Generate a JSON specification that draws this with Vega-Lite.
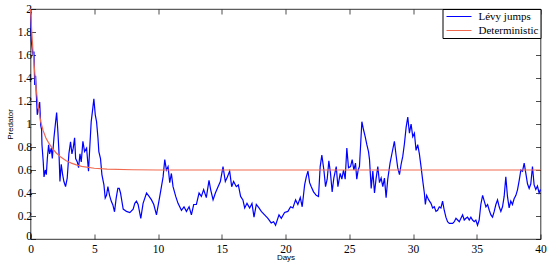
{
  "$schema": "https://vega.github.io/schema/vega-lite/v6.json",
  "width": 510,
  "height": 230,
  "autosize": "none",
  "padding": {"left": 30.5, "top": 9, "right": 9.5, "bottom": 27},
  "background": "white",
  "config": {
    "view": {"stroke": "black", "strokeWidth": 0.8},
    "axis": {
      "domain": false,
      "grid": false,
      "ticks": true,
      "tickSize": -5,
      "tickColor": "black",
      "tickWidth": 0.7,
      "labelFont": "Liberation Serif, Times New Roman, DejaVu Serif, serif",
      "labelFontSize": 11.5,
      "labelColor": "black",
      "labelPadding": 4,
      "titleFont": "Liberation Sans, Arial, sans-serif",
      "titleFontSize": 8,
      "titleFontWeight": "normal",
      "titleColor": "black"
    },
    "legend": {
      "orient": "top-right",
      "offset": 0,
      "strokeColor": "black",
      "fillColor": "white",
      "padding": 2,
      "symbolType": "M-2.5,0H2.5",
      "symbolSize": 100,
      "symbolOffset": 9,
      "symbolStrokeWidth": 1,
      "labelOffset": 14,
      "labelFont": "Liberation Serif, Times New Roman, DejaVu Serif, serif",
      "labelFontSize": 11,
      "labelColor": "black",
      "rowPadding": 2,
      "title": null
    }
  },
  "datasets": {
    "lines": [
      {"day":0,"predator":1.98,"series":"Lévy jumps"},
      {"day":0.065,"predator":1.72,"series":"Lévy jumps"},
      {"day":0.195,"predator":1.6,"series":"Lévy jumps"},
      {"day":0.27,"predator":1.63,"series":"Lévy jumps"},
      {"day":0.33,"predator":1.34,"series":"Lévy jumps"},
      {"day":0.4,"predator":1.42,"series":"Lévy jumps"},
      {"day":0.46,"predator":1.25,"series":"Lévy jumps"},
      {"day":0.53,"predator":1.08,"series":"Lévy jumps"},
      {"day":0.6,"predator":1.12,"series":"Lévy jumps"},
      {"day":0.72,"predator":1.19,"series":"Lévy jumps"},
      {"day":0.8,"predator":0.99,"series":"Lévy jumps"},
      {"day":0.87,"predator":0.95,"series":"Lévy jumps"},
      {"day":0.9,"predator":0.82,"series":"Lévy jumps"},
      {"day":1.0,"predator":0.67,"series":"Lévy jumps"},
      {"day":1.06,"predator":0.54,"series":"Lévy jumps"},
      {"day":1.16,"predator":0.6,"series":"Lévy jumps"},
      {"day":1.24,"predator":0.56,"series":"Lévy jumps"},
      {"day":1.32,"predator":0.7,"series":"Lévy jumps"},
      {"day":1.42,"predator":0.82,"series":"Lévy jumps"},
      {"day":1.5,"predator":0.74,"series":"Lévy jumps"},
      {"day":1.63,"predator":0.79,"series":"Lévy jumps"},
      {"day":1.71,"predator":0.7,"series":"Lévy jumps"},
      {"day":1.84,"predator":0.88,"series":"Lévy jumps"},
      {"day":1.97,"predator":1.02,"series":"Lévy jumps"},
      {"day":2.05,"predator":1.1,"series":"Lévy jumps"},
      {"day":2.15,"predator":0.93,"series":"Lévy jumps"},
      {"day":2.23,"predator":0.76,"series":"Lévy jumps"},
      {"day":2.31,"predator":0.5,"series":"Lévy jumps"},
      {"day":2.41,"predator":0.65,"series":"Lévy jumps"},
      {"day":2.52,"predator":0.56,"series":"Lévy jumps"},
      {"day":2.62,"predator":0.5,"series":"Lévy jumps"},
      {"day":2.75,"predator":0.455,"series":"Lévy jumps"},
      {"day":2.88,"predator":0.53,"series":"Lévy jumps"},
      {"day":3.01,"predator":0.74,"series":"Lévy jumps"},
      {"day":3.14,"predator":0.846,"series":"Lévy jumps"},
      {"day":3.25,"predator":0.74,"series":"Lévy jumps"},
      {"day":3.35,"predator":0.79,"series":"Lévy jumps"},
      {"day":3.46,"predator":0.88,"series":"Lévy jumps"},
      {"day":3.54,"predator":0.7,"series":"Lévy jumps"},
      {"day":3.67,"predator":0.67,"series":"Lévy jumps"},
      {"day":3.77,"predator":0.62,"series":"Lévy jumps"},
      {"day":3.88,"predator":0.74,"series":"Lévy jumps"},
      {"day":3.98,"predator":0.67,"series":"Lévy jumps"},
      {"day":4.11,"predator":0.85,"series":"Lévy jumps"},
      {"day":4.24,"predator":0.76,"series":"Lévy jumps"},
      {"day":4.4,"predator":0.79,"series":"Lévy jumps"},
      {"day":4.55,"predator":0.59,"series":"Lévy jumps"},
      {"day":4.66,"predator":0.82,"series":"Lévy jumps"},
      {"day":4.76,"predator":1.02,"series":"Lévy jumps"},
      {"day":4.89,"predator":1.14,"series":"Lévy jumps"},
      {"day":4.97,"predator":1.22,"series":"Lévy jumps"},
      {"day":5.08,"predator":1.08,"series":"Lévy jumps"},
      {"day":5.18,"predator":1.02,"series":"Lévy jumps"},
      {"day":5.29,"predator":0.88,"series":"Lévy jumps"},
      {"day":5.36,"predator":0.76,"series":"Lévy jumps"},
      {"day":5.49,"predator":0.7,"series":"Lévy jumps"},
      {"day":5.6,"predator":0.56,"series":"Lévy jumps"},
      {"day":5.76,"predator":0.47,"series":"Lévy jumps"},
      {"day":5.86,"predator":0.356,"series":"Lévy jumps"},
      {"day":5.96,"predator":0.38,"series":"Lévy jumps"},
      {"day":6.07,"predator":0.455,"series":"Lévy jumps"},
      {"day":6.2,"predator":0.38,"series":"Lévy jumps"},
      {"day":6.33,"predator":0.33,"series":"Lévy jumps"},
      {"day":6.46,"predator":0.296,"series":"Lévy jumps"},
      {"day":6.59,"predator":0.237,"series":"Lévy jumps"},
      {"day":6.72,"predator":0.356,"series":"Lévy jumps"},
      {"day":6.85,"predator":0.44,"series":"Lévy jumps"},
      {"day":6.96,"predator":0.44,"series":"Lévy jumps"},
      {"day":7.06,"predator":0.4,"series":"Lévy jumps"},
      {"day":7.27,"predator":0.26,"series":"Lévy jumps"},
      {"day":7.53,"predator":0.24,"series":"Lévy jumps"},
      {"day":7.79,"predator":0.23,"series":"Lévy jumps"},
      {"day":8.05,"predator":0.26,"series":"Lévy jumps"},
      {"day":8.18,"predator":0.31,"series":"Lévy jumps"},
      {"day":8.31,"predator":0.33,"series":"Lévy jumps"},
      {"day":8.44,"predator":0.3,"series":"Lévy jumps"},
      {"day":8.65,"predator":0.18,"series":"Lévy jumps"},
      {"day":8.83,"predator":0.31,"series":"Lévy jumps"},
      {"day":9.1,"predator":0.4,"series":"Lévy jumps"},
      {"day":9.3,"predator":0.37,"series":"Lévy jumps"},
      {"day":9.49,"predator":0.34,"series":"Lévy jumps"},
      {"day":9.67,"predator":0.3,"series":"Lévy jumps"},
      {"day":9.88,"predator":0.21,"series":"Lévy jumps"},
      {"day":10.09,"predator":0.34,"series":"Lévy jumps"},
      {"day":10.27,"predator":0.455,"series":"Lévy jumps"},
      {"day":10.4,"predator":0.54,"series":"Lévy jumps"},
      {"day":10.53,"predator":0.69,"series":"Lévy jumps"},
      {"day":10.66,"predator":0.6,"series":"Lévy jumps"},
      {"day":10.79,"predator":0.63,"series":"Lévy jumps"},
      {"day":10.92,"predator":0.49,"series":"Lévy jumps"},
      {"day":11.05,"predator":0.57,"series":"Lévy jumps"},
      {"day":11.18,"predator":0.455,"series":"Lévy jumps"},
      {"day":11.39,"predator":0.37,"series":"Lévy jumps"},
      {"day":11.57,"predator":0.31,"series":"Lévy jumps"},
      {"day":11.84,"predator":0.25,"series":"Lévy jumps"},
      {"day":12.04,"predator":0.28,"series":"Lévy jumps"},
      {"day":12.23,"predator":0.24,"series":"Lévy jumps"},
      {"day":12.44,"predator":0.28,"series":"Lévy jumps"},
      {"day":12.62,"predator":0.21,"series":"Lévy jumps"},
      {"day":12.8,"predator":0.3,"series":"Lévy jumps"},
      {"day":13.01,"predator":0.3,"series":"Lévy jumps"},
      {"day":13.22,"predator":0.4,"series":"Lévy jumps"},
      {"day":13.4,"predator":0.37,"series":"Lévy jumps"},
      {"day":13.58,"predator":0.43,"series":"Lévy jumps"},
      {"day":13.79,"predator":0.36,"series":"Lévy jumps"},
      {"day":14.0,"predator":0.51,"series":"Lévy jumps"},
      {"day":14.13,"predator":0.43,"series":"Lévy jumps"},
      {"day":14.32,"predator":0.34,"series":"Lévy jumps"},
      {"day":14.5,"predator":0.4,"series":"Lévy jumps"},
      {"day":14.71,"predator":0.455,"series":"Lévy jumps"},
      {"day":14.89,"predator":0.5,"series":"Lévy jumps"},
      {"day":15.1,"predator":0.63,"series":"Lévy jumps"},
      {"day":15.28,"predator":0.5,"series":"Lévy jumps"},
      {"day":15.44,"predator":0.54,"series":"Lévy jumps"},
      {"day":15.62,"predator":0.59,"series":"Lévy jumps"},
      {"day":15.78,"predator":0.455,"series":"Lévy jumps"},
      {"day":15.93,"predator":0.5,"series":"Lévy jumps"},
      {"day":16.14,"predator":0.455,"series":"Lévy jumps"},
      {"day":16.3,"predator":0.47,"series":"Lévy jumps"},
      {"day":16.48,"predator":0.37,"series":"Lévy jumps"},
      {"day":16.66,"predator":0.34,"series":"Lévy jumps"},
      {"day":16.8,"predator":0.27,"series":"Lévy jumps"},
      {"day":16.98,"predator":0.31,"series":"Lévy jumps"},
      {"day":17.19,"predator":0.27,"series":"Lévy jumps"},
      {"day":17.37,"predator":0.31,"series":"Lévy jumps"},
      {"day":17.53,"predator":0.19,"series":"Lévy jumps"},
      {"day":17.71,"predator":0.3,"series":"Lévy jumps"},
      {"day":17.92,"predator":0.27,"series":"Lévy jumps"},
      {"day":18.1,"predator":0.24,"series":"Lévy jumps"},
      {"day":18.36,"predator":0.21,"series":"Lévy jumps"},
      {"day":18.62,"predator":0.18,"series":"Lévy jumps"},
      {"day":18.88,"predator":0.14,"series":"Lévy jumps"},
      {"day":19.07,"predator":0.15,"series":"Lévy jumps"},
      {"day":19.22,"predator":0.12,"series":"Lévy jumps"},
      {"day":19.49,"predator":0.21,"series":"Lévy jumps"},
      {"day":19.67,"predator":0.18,"series":"Lévy jumps"},
      {"day":19.93,"predator":0.23,"series":"Lévy jumps"},
      {"day":20.19,"predator":0.24,"series":"Lévy jumps"},
      {"day":20.4,"predator":0.28,"series":"Lévy jumps"},
      {"day":20.58,"predator":0.27,"series":"Lévy jumps"},
      {"day":20.79,"predator":0.34,"series":"Lévy jumps"},
      {"day":20.97,"predator":0.3,"series":"Lévy jumps"},
      {"day":21.16,"predator":0.36,"series":"Lévy jumps"},
      {"day":21.31,"predator":0.28,"series":"Lévy jumps"},
      {"day":21.5,"predator":0.47,"series":"Lévy jumps"},
      {"day":21.63,"predator":0.54,"series":"Lévy jumps"},
      {"day":21.76,"predator":0.59,"series":"Lévy jumps"},
      {"day":21.89,"predator":0.49,"series":"Lévy jumps"},
      {"day":22.02,"predator":0.455,"series":"Lévy jumps"},
      {"day":22.2,"predator":0.41,"series":"Lévy jumps"},
      {"day":22.41,"predator":0.38,"series":"Lévy jumps"},
      {"day":22.59,"predator":0.37,"series":"Lévy jumps"},
      {"day":22.72,"predator":0.63,"series":"Lévy jumps"},
      {"day":22.85,"predator":0.73,"series":"Lévy jumps"},
      {"day":23.01,"predator":0.6,"series":"Lévy jumps"},
      {"day":23.14,"predator":0.455,"series":"Lévy jumps"},
      {"day":23.27,"predator":0.52,"series":"Lévy jumps"},
      {"day":23.4,"predator":0.68,"series":"Lévy jumps"},
      {"day":23.53,"predator":0.57,"series":"Lévy jumps"},
      {"day":23.66,"predator":0.41,"series":"Lévy jumps"},
      {"day":23.79,"predator":0.53,"series":"Lévy jumps"},
      {"day":23.98,"predator":0.63,"series":"Lévy jumps"},
      {"day":24.11,"predator":0.455,"series":"Lévy jumps"},
      {"day":24.29,"predator":0.57,"series":"Lévy jumps"},
      {"day":24.42,"predator":0.52,"series":"Lévy jumps"},
      {"day":24.55,"predator":0.6,"series":"Lévy jumps"},
      {"day":24.68,"predator":0.52,"series":"Lévy jumps"},
      {"day":24.81,"predator":0.79,"series":"Lévy jumps"},
      {"day":24.94,"predator":0.62,"series":"Lévy jumps"},
      {"day":25.1,"predator":0.63,"series":"Lévy jumps"},
      {"day":25.23,"predator":0.69,"series":"Lévy jumps"},
      {"day":25.36,"predator":0.6,"series":"Lévy jumps"},
      {"day":25.49,"predator":0.66,"series":"Lévy jumps"},
      {"day":25.59,"predator":0.52,"series":"Lévy jumps"},
      {"day":25.7,"predator":0.6,"series":"Lévy jumps"},
      {"day":25.8,"predator":0.63,"series":"Lévy jumps"},
      {"day":25.99,"predator":1.02,"series":"Lévy jumps"},
      {"day":26.12,"predator":0.95,"series":"Lévy jumps"},
      {"day":26.25,"predator":0.89,"series":"Lévy jumps"},
      {"day":26.38,"predator":0.82,"series":"Lévy jumps"},
      {"day":26.51,"predator":0.76,"series":"Lévy jumps"},
      {"day":26.59,"predator":0.69,"series":"Lévy jumps"},
      {"day":26.72,"predator":0.44,"series":"Lévy jumps"},
      {"day":26.85,"predator":0.59,"series":"Lévy jumps"},
      {"day":26.98,"predator":0.4,"series":"Lévy jumps"},
      {"day":27.11,"predator":0.53,"series":"Lévy jumps"},
      {"day":27.24,"predator":0.63,"series":"Lévy jumps"},
      {"day":27.37,"predator":0.49,"series":"Lévy jumps"},
      {"day":27.5,"predator":0.53,"series":"Lévy jumps"},
      {"day":27.63,"predator":0.455,"series":"Lévy jumps"},
      {"day":27.76,"predator":0.53,"series":"Lévy jumps"},
      {"day":27.89,"predator":0.36,"series":"Lévy jumps"},
      {"day":28.02,"predator":0.52,"series":"Lévy jumps"},
      {"day":28.2,"predator":0.66,"series":"Lévy jumps"},
      {"day":28.36,"predator":0.75,"series":"Lévy jumps"},
      {"day":28.54,"predator":0.85,"series":"Lévy jumps"},
      {"day":28.67,"predator":0.73,"series":"Lévy jumps"},
      {"day":28.8,"predator":0.62,"series":"Lévy jumps"},
      {"day":28.94,"predator":0.56,"series":"Lévy jumps"},
      {"day":29.07,"predator":0.65,"series":"Lévy jumps"},
      {"day":29.2,"predator":0.72,"series":"Lévy jumps"},
      {"day":29.33,"predator":0.83,"series":"Lévy jumps"},
      {"day":29.46,"predator":0.97,"series":"Lévy jumps"},
      {"day":29.59,"predator":1.06,"series":"Lévy jumps"},
      {"day":29.72,"predator":0.92,"series":"Lévy jumps"},
      {"day":29.85,"predator":1.0,"series":"Lévy jumps"},
      {"day":29.98,"predator":0.89,"series":"Lévy jumps"},
      {"day":30.11,"predator":0.92,"series":"Lévy jumps"},
      {"day":30.24,"predator":0.77,"series":"Lévy jumps"},
      {"day":30.37,"predator":0.82,"series":"Lévy jumps"},
      {"day":30.5,"predator":0.74,"series":"Lévy jumps"},
      {"day":30.63,"predator":0.63,"series":"Lévy jumps"},
      {"day":30.76,"predator":0.51,"series":"Lévy jumps"},
      {"day":30.89,"predator":0.4,"series":"Lévy jumps"},
      {"day":30.97,"predator":0.3,"series":"Lévy jumps"},
      {"day":31.07,"predator":0.38,"series":"Lévy jumps"},
      {"day":31.23,"predator":0.34,"series":"Lévy jumps"},
      {"day":31.41,"predator":0.31,"series":"Lévy jumps"},
      {"day":31.54,"predator":0.27,"series":"Lévy jumps"},
      {"day":31.67,"predator":0.28,"series":"Lévy jumps"},
      {"day":31.8,"predator":0.24,"series":"Lévy jumps"},
      {"day":31.93,"predator":0.25,"series":"Lévy jumps"},
      {"day":32.06,"predator":0.28,"series":"Lévy jumps"},
      {"day":32.19,"predator":0.27,"series":"Lévy jumps"},
      {"day":32.32,"predator":0.33,"series":"Lévy jumps"},
      {"day":32.45,"predator":0.25,"series":"Lévy jumps"},
      {"day":32.58,"predator":0.19,"series":"Lévy jumps"},
      {"day":32.71,"predator":0.15,"series":"Lévy jumps"},
      {"day":32.85,"predator":0.136,"series":"Lévy jumps"},
      {"day":33.11,"predator":0.136,"series":"Lévy jumps"},
      {"day":33.24,"predator":0.15,"series":"Lévy jumps"},
      {"day":33.37,"predator":0.18,"series":"Lévy jumps"},
      {"day":33.5,"predator":0.165,"series":"Lévy jumps"},
      {"day":33.63,"predator":0.15,"series":"Lévy jumps"},
      {"day":33.76,"predator":0.18,"series":"Lévy jumps"},
      {"day":33.89,"predator":0.21,"series":"Lévy jumps"},
      {"day":34.02,"predator":0.165,"series":"Lévy jumps"},
      {"day":34.15,"predator":0.18,"series":"Lévy jumps"},
      {"day":34.28,"predator":0.19,"series":"Lévy jumps"},
      {"day":34.41,"predator":0.165,"series":"Lévy jumps"},
      {"day":34.54,"predator":0.19,"series":"Lévy jumps"},
      {"day":34.67,"predator":0.165,"series":"Lévy jumps"},
      {"day":34.8,"predator":0.15,"series":"Lévy jumps"},
      {"day":34.93,"predator":0.165,"series":"Lévy jumps"},
      {"day":35.06,"predator":0.12,"series":"Lévy jumps"},
      {"day":35.19,"predator":0.165,"series":"Lévy jumps"},
      {"day":35.32,"predator":0.3,"series":"Lévy jumps"},
      {"day":35.46,"predator":0.38,"series":"Lévy jumps"},
      {"day":35.59,"predator":0.33,"series":"Lévy jumps"},
      {"day":35.72,"predator":0.28,"series":"Lévy jumps"},
      {"day":35.85,"predator":0.3,"series":"Lévy jumps"},
      {"day":35.98,"predator":0.25,"series":"Lévy jumps"},
      {"day":36.11,"predator":0.21,"series":"Lévy jumps"},
      {"day":36.24,"predator":0.19,"series":"Lévy jumps"},
      {"day":36.37,"predator":0.24,"series":"Lévy jumps"},
      {"day":36.5,"predator":0.3,"series":"Lévy jumps"},
      {"day":36.63,"predator":0.34,"series":"Lévy jumps"},
      {"day":36.76,"predator":0.28,"series":"Lévy jumps"},
      {"day":36.89,"predator":0.24,"series":"Lévy jumps"},
      {"day":37.02,"predator":0.28,"series":"Lévy jumps"},
      {"day":37.15,"predator":0.37,"series":"Lévy jumps"},
      {"day":37.28,"predator":0.54,"series":"Lévy jumps"},
      {"day":37.41,"predator":0.37,"series":"Lévy jumps"},
      {"day":37.54,"predator":0.27,"series":"Lévy jumps"},
      {"day":37.67,"predator":0.33,"series":"Lévy jumps"},
      {"day":37.8,"predator":0.3,"series":"Lévy jumps"},
      {"day":37.93,"predator":0.35,"series":"Lévy jumps"},
      {"day":38.07,"predator":0.38,"series":"Lévy jumps"},
      {"day":38.2,"predator":0.43,"series":"Lévy jumps"},
      {"day":38.33,"predator":0.51,"series":"Lévy jumps"},
      {"day":38.46,"predator":0.6,"series":"Lévy jumps"},
      {"day":38.59,"predator":0.59,"series":"Lévy jumps"},
      {"day":38.72,"predator":0.66,"series":"Lévy jumps"},
      {"day":38.85,"predator":0.57,"series":"Lévy jumps"},
      {"day":38.98,"predator":0.48,"series":"Lévy jumps"},
      {"day":39.11,"predator":0.44,"series":"Lévy jumps"},
      {"day":39.24,"predator":0.48,"series":"Lévy jumps"},
      {"day":39.37,"predator":0.63,"series":"Lévy jumps"},
      {"day":39.5,"predator":0.47,"series":"Lévy jumps"},
      {"day":39.63,"predator":0.43,"series":"Lévy jumps"},
      {"day":39.76,"predator":0.46,"series":"Lévy jumps"},
      {"day":39.89,"predator":0.4,"series":"Lévy jumps"},
      {"day":40,"predator":0.43,"series":"Lévy jumps"},
      {"day":0,"predator":2.0,"series":"Deterministic"},
      {"day":0.1,"predator":1.8,"series":"Deterministic"},
      {"day":0.2,"predator":1.63,"series":"Deterministic"},
      {"day":0.33,"predator":1.45,"series":"Deterministic"},
      {"day":0.45,"predator":1.3,"series":"Deterministic"},
      {"day":0.6,"predator":1.16,"series":"Deterministic"},
      {"day":0.8,"predator":1.02,"series":"Deterministic"},
      {"day":1.0,"predator":0.94,"series":"Deterministic"},
      {"day":1.2,"predator":0.88,"series":"Deterministic"},
      {"day":1.4,"predator":0.84,"series":"Deterministic"},
      {"day":1.7,"predator":0.79,"series":"Deterministic"},
      {"day":2.0,"predator":0.75,"series":"Deterministic"},
      {"day":2.4,"predator":0.71,"series":"Deterministic"},
      {"day":2.8,"predator":0.68,"series":"Deterministic"},
      {"day":3.2,"predator":0.66,"series":"Deterministic"},
      {"day":3.6,"predator":0.645,"series":"Deterministic"},
      {"day":4.0,"predator":0.632,"series":"Deterministic"},
      {"day":5.0,"predator":0.615,"series":"Deterministic"},
      {"day":6.0,"predator":0.607,"series":"Deterministic"},
      {"day":8.0,"predator":0.602,"series":"Deterministic"},
      {"day":10.0,"predator":0.6,"series":"Deterministic"},
      {"day":40.0,"predator":0.6,"series":"Deterministic"}
    ]
  },
  "data": {"name": "lines"},
  "layer": [
    {
      "mark": {"type": "line", "strokeWidth": 1.2, "interpolate": "linear"},
      "encoding": {
        "x": {
          "field": "day", "type": "quantitative",
          "scale": {"domain": [0, 40], "nice": false, "zero": false},
          "axis": {"orient": "bottom", "values": [0, 5, 10, 15, 20, 25, 30, 35, 40], "title": "Days", "titlePadding": -1, "labelPadding": 9, "labelFlush": false}
        },
        "y": {
          "field": "predator", "type": "quantitative",
          "scale": {"domain": [0, 2], "nice": false},
          "axis": {
            "orient": "left",
            "values": [0, 0.2, 0.4, 0.6, 0.8, 1, 1.2, 1.4, 1.6, 1.8, 2],
            "format": "~g",
            "title": "Predator",
            "titlePadding": 3,
            "labelFlush": false,
            "labelOffset": {"condition": {"test": "datum.value === 0", "value": -3}, "value": 0}
          }
        },
        "color": {
          "field": "series", "type": "nominal",
          "scale": {"domain": ["Lévy jumps", "Deterministic"], "range": ["#0000ff", "#f06a50"]},
          "legend": {"title": null}
        },
        "order": {"field": "day", "type": "quantitative"}
      }
    },
    {
      "mark": {"type": "line", "strokeOpacity": 0},
      "encoding": {
        "x": {
          "field": "day", "type": "quantitative",
          "axis": {"orient": "top", "values": [0, 5, 10, 15, 20, 25, 30, 35, 40], "labels": false, "title": null}
        },
        "y": {
          "field": "predator", "type": "quantitative",
          "axis": {"orient": "right", "values": [0, 0.2, 0.4, 0.6, 0.8, 1, 1.2, 1.4, 1.6, 1.8, 2], "labels": false, "title": null}
        },
        "detail": {"field": "series", "type": "nominal"}
      }
    }
  ],
  "resolve": {"axis": {"x": "independent", "y": "independent"}}
}
